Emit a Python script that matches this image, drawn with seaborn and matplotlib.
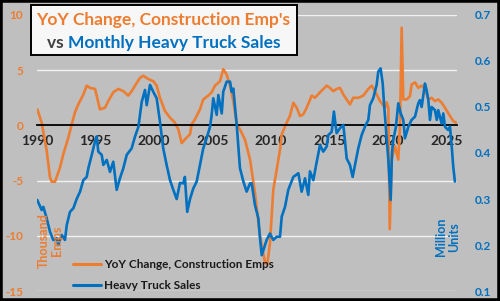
import matplotlib
matplotlib.use("Agg")
import matplotlib.pyplot as plt
import seaborn as sns
import pandas as pd
from matplotlib.patches import Rectangle
from matplotlib.lines import Line2D

# ---------------- data ----------------
emp_years = [1990.03, 1990.40, 1990.83, 1991.11, 1991.26, 1991.54, 1991.97, 1992.25, 1992.68, 1992.97,
             1993.25, 1993.53, 1993.96, 1994.25, 1994.53, 1994.96, 1995.10, 1995.38, 1995.81, 1996.09,
             1996.52, 1996.95, 1997.38, 1997.80, 1998.09, 1998.38, 1998.80, 1999.09, 1999.51, 1999.94,
             2000.23, 2000.51, 2000.94, 2001.37, 2001.79, 2002.08, 2002.37, 2002.79, 2003.08, 2003.22,
             2003.50, 2003.93, 2004.21, 2004.64, 2004.93, 2005.21, 2005.64, 2005.92, 2006.21, 2006.50,
             2006.78, 2007.07, 2007.35, 2007.78, 2008.21, 2008.63, 2009.06, 2009.49, 2009.68, 2009.91,
             2010.06, 2010.20, 2010.49, 2010.77, 2010.92, 2011.34, 2011.62, 2011.91, 2012.20, 2012.48,
             2012.76, 2013.05, 2013.48, 2013.76, 2014.19, 2014.76, 2015.04, 2015.32, 2015.62, 2015.90,
             2016.18, 2016.75, 2017.03, 2017.46, 2017.89, 2018.32, 2018.61, 2018.89, 2019.32, 2019.74,
             2019.89, 2020.03, 2020.15, 2020.32, 2020.60, 2020.88, 2021.03, 2021.17, 2021.31, 2021.60,
             2021.88, 2022.02, 2022.31, 2022.59, 2022.88, 2023.16, 2023.45, 2023.73, 2024.02, 2024.30,
             2024.59, 2024.87, 2025.30, 2025.58, 2025.81]
emp_yoy = [1.45, 0.25, -2.3, -4.7, -5.1, -5.1, -3.8, -2.6, -1.1, 0.1,
           1.2, 1.9, 2.8, 3.6, 3.4, 3.3, 2.7, 1.45, 1.6, 2.2,
           3.0, 3.3, 3.1, 2.7, 3.1, 3.6, 4.3, 4.5, 4.2, 4.0,
           3.6, 2.5, 1.3, 0.7, 0.25, -0.36, -1.6, -1.1, -0.8, 0.1,
           0.55, 1.45, 2.35, 2.7, 3.0, 3.6, 4.0, 5.1, 4.6, 3.6,
           2.2, 0.1, -0.36, -1.3, -3.1, -6.1, -10.0, -12.4, -12.6, -10.7,
           -8.2, -5.8, -4.0, -2.2, -0.8, 0.25, 0.85, 2.05, 1.6, 0.85,
           1.0, 1.6, 2.7, 2.5, 3.0, 3.6, 3.4, 3.1, 3.3, 3.4,
           2.8, 1.9, 2.5, 2.5, 2.7, 3.3, 3.6, 3.1, 2.2, 1.6,
           2.1, 1.6, -9.4, -3.1, -1.9, -3.1, 0.0, 8.85, 2.35, 2.35,
           2.65, 3.7, 3.9, 3.4, 3.6, 3.3, 2.35, 2.5, 2.2, 2.35,
           2.05, 1.6, 0.85, 0.4, 0.25]

truck_years = [1990.02, 1990.40, 1990.54, 1990.83, 1991.11, 1991.39, 1991.68, 1991.82, 1992.11, 1992.39,
               1992.54, 1992.82, 1993.11, 1993.39, 1993.68, 1993.96, 1994.25, 1994.39, 1994.68, 1994.96,
               1995.10, 1995.24, 1995.53, 1995.67, 1995.96, 1996.24, 1996.52, 1996.81, 1997.09, 1997.38,
               1997.67, 1998.09, 1998.38, 1998.67, 1998.95, 1999.23, 1999.38, 1999.66, 1999.94, 2000.23,
               2000.51, 2000.79, 2001.08, 2001.37, 2001.65, 2001.94, 2002.22, 2002.50, 2002.64, 2002.84,
               2003.08, 2003.36, 2003.65, 2003.93, 2004.21, 2004.50, 2004.79, 2004.93, 2005.07, 2005.36,
               2005.50, 2005.79, 2005.92, 2006.21, 2006.50, 2006.64, 2006.78, 2007.07, 2007.35, 2007.64,
               2007.92, 2008.21, 2008.35, 2008.63, 2008.92, 2009.06, 2009.21, 2009.35, 2009.63, 2009.91,
               2010.20, 2010.49, 2010.77, 2010.92, 2011.20, 2011.48, 2011.91, 2012.34, 2012.62, 2012.91,
               2013.19, 2013.33, 2013.62, 2013.91, 2014.19, 2014.47, 2014.76, 2014.90, 2015.19, 2015.38,
               2015.61, 2015.90, 2016.18, 2016.33, 2016.47, 2016.75, 2016.98, 2017.18, 2017.46, 2017.75,
               2018.03, 2018.32, 2018.46, 2018.74, 2019.03, 2019.17, 2019.37, 2019.55, 2019.66, 2019.83,
               2020.03, 2020.23, 2020.34, 2020.45, 2020.68, 2020.88, 2021.09, 2021.31, 2021.45, 2021.74,
               2022.02, 2022.31, 2022.59, 2022.74, 2022.88, 2023.16, 2023.30, 2023.45, 2023.59, 2023.73,
               2024.02, 2024.17, 2024.30, 2024.59, 2024.73, 2024.87, 2025.15, 2025.30, 2025.45, 2025.58,
               2025.72]
truck_sales = [0.298, 0.276, 0.283, 0.258, 0.229, 0.211, 0.215, 0.200, 0.222, 0.211,
               0.243, 0.272, 0.280, 0.300, 0.316, 0.341, 0.348, 0.367, 0.396, 0.425,
               0.436, 0.403, 0.396, 0.374, 0.385, 0.359, 0.381, 0.320, 0.345, 0.367,
               0.396, 0.410, 0.436, 0.457, 0.511, 0.537, 0.504, 0.548, 0.533, 0.519,
               0.468, 0.410, 0.374, 0.341, 0.320, 0.300, 0.335, 0.334, 0.348, 0.272,
               0.300, 0.323, 0.338, 0.374, 0.410, 0.432, 0.457, 0.483, 0.519, 0.483,
               0.526, 0.486, 0.533, 0.555, 0.555, 0.533, 0.540, 0.461, 0.367, 0.338,
               0.316, 0.334, 0.334, 0.287, 0.258, 0.215, 0.178, 0.189, 0.211, 0.225,
               0.211, 0.218, 0.218, 0.262, 0.283, 0.320, 0.348, 0.356, 0.316, 0.345,
               0.309, 0.360, 0.341, 0.381, 0.417, 0.403, 0.414, 0.439, 0.446, 0.490,
               0.443, 0.454, 0.461, 0.425, 0.388, 0.374, 0.348, 0.374, 0.410, 0.439,
               0.457, 0.472, 0.504, 0.519, 0.548, 0.577, 0.584, 0.551, 0.508, 0.450,
               0.385, 0.298, 0.400, 0.428, 0.457, 0.508, 0.486, 0.472, 0.432, 0.457,
               0.472, 0.479, 0.508, 0.515, 0.500, 0.551, 0.537, 0.515, 0.472, 0.500,
               0.493, 0.472, 0.493, 0.464, 0.486, 0.457, 0.450, 0.457, 0.414, 0.370,
               0.338]

x_ticks = [1990, 1995, 2000, 2005, 2010, 2015, 2020, 2025]
left_ticks = [-15, -10, -5, 0, 5, 10]
right_ticks = [0.1, 0.2, 0.3, 0.4, 0.5, 0.6, 0.7]

title_line1 = "YoY Change, Construction Emp's"
title_vs = "vs "
title_line2 = "Monthly Heavy Truck Sales"
emp_label = "YoY Change, Construction Emps"
truck_label = "Heavy Truck Sales"

# ---------------- style ----------------
ORANGE = "#ED7D31"
BLUE = "#0070C0"
BG = "#BFBFBF"

sns.set_style("white")
plt.rcParams['font.family'] = ['Lato', 'DejaVu Sans']
plt.rcParams['font.weight'] = 'bold'

emp_df = pd.DataFrame({"year": emp_years, "value": emp_yoy})
truck_df = pd.DataFrame({"year": truck_years, "value": truck_sales})

fig = plt.figure(figsize=(5.0, 3.01), dpi=100, facecolor=BG)
ax = fig.add_axes([0.074, 0.0332, 0.84, 0.917])
ax.set_facecolor(BG)

sns.lineplot(data=emp_df, x="year", y="value", ax=ax, color=ORANGE, lw=1.9, sort=False)
ax.set_xlim(1990, 2025.9)
ax.set_ylim(-15, 10)
ax.set_yticks(left_ticks)
ax.set_yticklabels([str(t) for t in left_ticks], color=ORANGE, fontsize=8.5, fontweight='bold')
ax.tick_params(axis='y', length=0, pad=10)
ax.set_xticks(x_ticks)
ax.set_xticklabels([str(t) for t in x_ticks], color="#595959", fontsize=8.5, fontweight='bold')
ax.tick_params(axis='x', length=3.5, width=1.2, color='black', direction='out', pad=3.5)
for s in ['left', 'right', 'top']:
    ax.spines[s].set_visible(False)
ax.spines['bottom'].set_position(('data', 0))
ax.spines['bottom'].set_color('black')
ax.spines['bottom'].set_linewidth(1.3)
for t in [10, 5, -5, -10, -15]:
    ax.axhline(t, color='#F2F2F2', lw=1.0, zorder=0)
ax.set_xlabel("")
ax.set_ylabel("")

ax2 = ax.twinx()
sns.lineplot(data=truck_df, x="year", y="value", ax=ax2, color=BLUE, lw=1.9, sort=False)
ax2.set_ylim(0.1, 0.7)
ax2.set_yticks(right_ticks)
ax2.set_yticklabels([f"{t:.1f}" for t in right_ticks], color=BLUE, fontsize=8.5, fontweight='bold')
ax2.tick_params(axis='y', length=0, pad=13)
for s in ax2.spines.values():
    s.set_visible(False)
ax2.set_xlabel("")
ax2.set_ylabel("")

# axis unit labels inside the plot
fig.text(50 / 500, 1 - 241 / 301, "Thousand\nEmps", rotation=90, color=ORANGE, fontsize=9,
         fontweight='bold', ha='center', va='center', multialignment='center', linespacing=1.1)
fig.text(448 / 500, 1 - 237 / 301, "Million\nUnits", rotation=90, color=BLUE, fontsize=9,
         fontweight='bold', ha='center', va='center', multialignment='center', linespacing=1.1)

# legend
handles = [Line2D([0], [0], color=ORANGE, lw=2.2), Line2D([0], [0], color=BLUE, lw=2.2)]
leg = ax2.legend(handles, [emp_label, truck_label], loc='lower left',
                 bbox_to_anchor=(62 / 500, -1 / 301), bbox_transform=fig.transFigure,
                 frameon=False, handlelength=2.4, handletextpad=0.25, labelspacing=0.85,
                 prop={'family': ['Lato', 'DejaVu Sans'], 'weight': 'bold', 'size': 8.5})
for t in leg.get_texts():
    t.set_color('#1A1A1A')

# title box
fig.patches.append(Rectangle((31 / 500, 1 - 55 / 301), 266 / 500, 50 / 301, transform=fig.transFigure,
                             facecolor='#F7F7F7', edgecolor='black', lw=1.4, zorder=5))
cx = 163.5 / 500
fig.text(cx, 1 - 20 / 301, title_line1, color=ORANGE, fontsize=12.5, fontweight='bold',
         ha='center', va='center', zorder=6)
t_vs = fig.text(0, 1 - 43 / 301, title_vs, color='#404040', fontsize=12.5, fontweight='bold',
                ha='left', va='center', zorder=6)
t_m = fig.text(0, 1 - 43 / 301, title_line2, color=BLUE, fontsize=12.5, fontweight='bold',
               ha='left', va='center', zorder=6)
fig.canvas.draw()
r = fig.canvas.get_renderer()
w_vs = t_vs.get_window_extent(r).width / 500
w_m = t_m.get_window_extent(r).width / 500
x0 = cx - (w_vs + w_m) / 2
t_vs.set_x(x0)
t_m.set_x(x0 + w_vs)

# outer black frame
fig.patches.append(Rectangle((0, 0), 1, 1, transform=fig.transFigure, fill=False,
                             edgecolor='black', lw=4, zorder=10))

fig.savefig("out.png", dpi=100, facecolor=BG)
